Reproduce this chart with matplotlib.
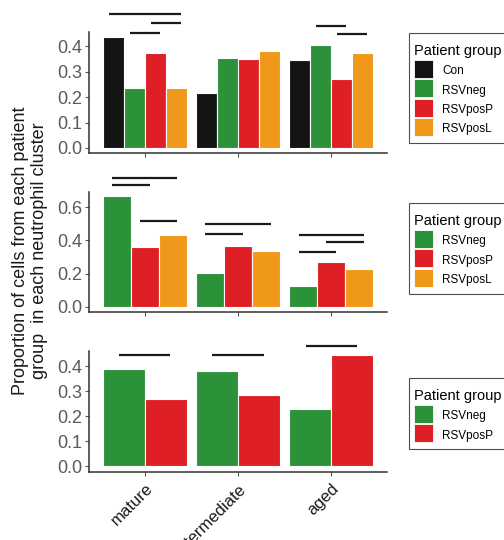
import matplotlib
matplotlib.use("Agg")
import matplotlib.pyplot as plt
from matplotlib.patches import Patch, Rectangle
from matplotlib.legend_handler import HandlerPatch
from matplotlib.offsetbox import DrawingArea
import numpy as np

plt.rcParams["font.family"] = ["Liberation Sans", "DejaVu Sans"]

CLUSTERS = ["mature", "intermediate", "aged"]
COLORS = {"Con": "#141414", "RSVneg": "#2b923a",
          "RSVposP": "#df1f26", "RSVposL": "#f0981a"}

# panel 1: all four groups
p1_groups = ["Con", "RSVneg", "RSVposP", "RSVposL"]
p1_values = {
    "Con":     [0.436, 0.216, 0.347],
    "RSVneg":  [0.238, 0.353, 0.407],
    "RSVposP": [0.376, 0.350, 0.271],
    "RSVposL": [0.238, 0.383, 0.376],
}
# (cluster, group a, group b, height)
p1_sig = [(0, "Con", "RSVposL", 0.529), (0, "RSVneg", "RSVposP", 0.454),
          (0, "RSVposP", "RSVposL", 0.493), (2, "RSVneg", "RSVposP", 0.482),
          (2, "RSVposP", "RSVposL", 0.451)]

# panel 2: RSV groups
p2_groups = ["RSVneg", "RSVposP", "RSVposL"]
p2_values = {
    "RSVneg":  [0.667, 0.201, 0.127],
    "RSVposP": [0.358, 0.368, 0.271],
    "RSVposL": [0.432, 0.336, 0.225],
}
p2_sig = [(0, "RSVneg", "RSVposL", 0.776), (0, "RSVneg", "RSVposP", 0.732),
          (0, "RSVposP", "RSVposL", 0.520), (1, "RSVneg", "RSVposL", 0.496),
          (1, "RSVneg", "RSVposP", 0.436), (2, "RSVneg", "RSVposL", 0.432),
          (2, "RSVposP", "RSVposL", 0.388), (2, "RSVneg", "RSVposP", 0.332)]

# panel 3: RSVneg vs RSVposP
p3_groups = ["RSVneg", "RSVposP"]
p3_values = {
    "RSVneg":  [0.387, 0.381, 0.229],
    "RSVposP": [0.270, 0.286, 0.443],
}
p3_sig = [(0, "RSVneg", "RSVposP", 0.443), (1, "RSVneg", "RSVposP", 0.443),
          (2, "RSVneg", "RSVposP", 0.480)]

W, H = 504, 540
fig = plt.figure(figsize=(W / 100, H / 100), dpi=100)


def px_axes(left, top, right, bottom):
    return fig.add_axes([left / W, 1 - bottom / H, (right - left) / W,
                         (bottom - top) / H])


def draw_panel(ax, groups, values, sig, ylim, yticks, show_x):
    x = np.arange(1, len(CLUSTERS) + 1)
    n = len(groups)
    w = 0.9 / n
    offs = {g: (i - (n - 1) / 2) * w for i, g in enumerate(groups)}
    for g in groups:
        ax.bar(x + offs[g], values[g], w, color=COLORS[g],
               edgecolor="white", linewidth=0.8)
    pad = 0.05
    for ci, a, b, h in sig:
        ax.plot([x[ci] + offs[a] - pad, x[ci] + offs[b] + pad], [h, h],
                color="#1a1a1a", lw=1.6, solid_capstyle="butt",
                clip_on=False)
    ax.set_xlim(0.4, 3.6)
    ax.set_ylim(*ylim)
    ax.set_yticks(yticks)
    ax.set_yticklabels([f"{t:.1f}" for t in yticks])
    ax.set_xticks(x)
    if show_x:
        ax.set_xticklabels(CLUSTERS, rotation=45, ha="right",
                           rotation_mode="anchor", fontsize=12,
                           color="#1a1a1a")
    else:
        ax.set_xticklabels([])
    for s in ("top", "right"):
        ax.spines[s].set_visible(False)
    for s in ("left", "bottom"):
        ax.spines[s].set_color("#333333")
        ax.spines[s].set_linewidth(1.1)
    ax.tick_params(axis="both", length=3, width=0.8, color="#555555")
    ax.tick_params(axis="y", labelsize=13, labelcolor="#5a5a5a", pad=2)


ax1 = px_axes(89, 32, 387, 153)
draw_panel(ax1, p1_groups, p1_values, p1_sig, (-0.02, 0.457),
           [0.0, 0.1, 0.2, 0.3, 0.4], False)
ax2 = px_axes(89, 192, 387, 312)
draw_panel(ax2, p2_groups, p2_values, p2_sig, (-0.032, 0.692),
           [0.0, 0.2, 0.4, 0.6], False)
ax3 = px_axes(89, 351, 387, 472)
draw_panel(ax3, p3_groups, p3_values, p3_sig, (-0.023, 0.46),
           [0.0, 0.1, 0.2, 0.3, 0.4], True)

fig.text(30 / W, 1 - 251 / H,
         "Proportion of cells from each patient\ngroup  in each neutrophil cluster",
         rotation=90, ha="center", va="center", fontsize=13,
         color="#1a1a1a", linespacing=1.15)


def key_patch(legend, orig_handle, xdescent, ydescent, width, height,
              fontsize):
    # nudge the key up so the label sits on its middle
    return Rectangle((-xdescent, -ydescent + 1.1), width, height)


for groups, top in ((p1_groups, 33), (p2_groups, 203), (p3_groups, 378)):
    handles = [Patch(facecolor=COLORS[g], edgecolor="white", linewidth=0.6)
               for g in groups]
    leg = fig.legend(handles, groups, title="Patient group",
                     loc="upper left", bbox_to_anchor=(409 / W, 1 - top / H),
                     borderaxespad=0, fontsize=8.5, title_fontsize=10.5,
                     frameon=True, fancybox=False, handlelength=1.55,
                     handleheight=2.0, handletextpad=0.8, labelspacing=0.1,
                     borderpad=0.45,
                     handler_map={Patch: HandlerPatch(patch_func=key_patch)})
    leg.get_frame().set_edgecolor("#222222")
    leg.get_frame().set_linewidth(0.8)
    leg._legend_box.align = "left"
    # extra room above and below the title, as in the original
    leg._legend_box.sep = 2.5
    leg._legend_box._children.insert(0, DrawingArea(1, 1.5))

fig.savefig("out.png", dpi=100)
